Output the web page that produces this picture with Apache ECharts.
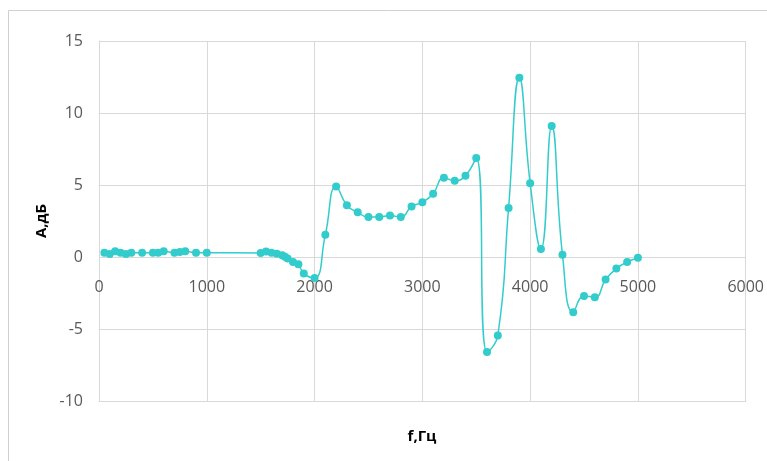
<!DOCTYPE html>
<html>
<head>
<meta charset="utf-8">
<script src="https://cdn.jsdelivr.net/npm/echarts@6/dist/echarts.min.js"></script>
<style>
html,body{margin:0;padding:0;background:#fff;}
#c{width:767px;height:461px;}
</style>
</head>
<body>
<div id="c"></div>
<script>
// Data
const freqHz = [50,100,150,200,250,300,400,500,550,600,700,750,800,900,1000,
  1500,1550,1600,1650,1700,1725,1750,1800,1850,1900,2000,2100,2200,2300,2400,
  2500,2600,2700,2800,2900,3000,3100,3200,3300,3400,3500,3600,3700,3800,3900,
  4000,4100,4200,4300,4400,4500,4600,4700,4800,4900,5000];
const amplitudeDb = [0.3,0.2,0.4,0.3,0.2,0.3,0.3,0.3,0.3,0.4,0.3,0.35,0.4,0.3,0.3,
  0.28,0.38,0.3,0.22,0.12,0.02,-0.1,-0.35,-0.5,-1.15,-1.45,1.55,4.9,3.6,3.1,
  2.77,2.77,2.88,2.77,3.5,3.8,4.4,5.5,5.3,5.65,6.87,-6.6,-5.45,3.4,12.45,
  5.13,0.55,9.1,0.16,-3.84,-2.7,-2.8,-1.57,-0.8,-0.35,-0.05];
const xTickLabels = [0,1000,2000,3000,4000,5000,6000];
const yTickLabels = [-10,-5,0,5,10,15];
const xAxisTitle = 'f,Гц';
const yAxisTitle = 'А,дБ';

const points = freqHz.map((f,i)=>[f, amplitudeDb[i]]);
const font = "'Open Sans', 'Liberation Sans', sans-serif";
const gridColor = '#d9d9d9';
const lineColor = '#33cccc';

const chart = echarts.init(document.getElementById('c'), null, {renderer:'canvas'});
chart.setOption({
  animation:false,
  backgroundColor:'#fff',
  grid:{left:99, right:21, top:41, bottom:60, containLabel:false},
  xAxis:{
    type:'value',
    min:xTickLabels[0], max:xTickLabels[xTickLabels.length-1], interval:1000,
    axisLine:{show:true, onZero:false, lineStyle:{color:gridColor, width:1}},
    axisTick:{show:false},
    splitLine:{show:true, lineStyle:{color:gridColor, width:1}},
    axisLabel:{color:'#595959', fontSize:16, fontFamily:font, margin:-122,
      formatter:function(v){return String(v);}}
  },
  yAxis:{
    type:'value',
    min:yTickLabels[0], max:yTickLabels[yTickLabels.length-1], interval:5,
    axisLine:{show:true, lineStyle:{color:gridColor, width:1}},
    axisTick:{show:false},
    splitLine:{show:true, lineStyle:{color:gridColor, width:1}},
    axisLabel:{color:'#595959', fontSize:16, fontFamily:font, margin:16,
      formatter:function(v){return String(v);}}
  },
  graphic:[
    {type:'rect', silent:true, shape:{x:8.5, y:10.5, width:900, height:600},
     style:{fill:null, stroke:'#d0d0d0', lineWidth:1}},
    {type:'text', silent:true, x:422, y:437,
     style:{text:xAxisTitle, x:0, y:0, align:'center', verticalAlign:'middle',
       font:"bold 15px "+font, fill:'#000'}},
    {type:'text', silent:true, rotation:Math.PI/2, x:42, y:221,
     style:{text:yAxisTitle, x:0, y:0, align:'center', verticalAlign:'middle',
       font:"bold 15px "+font, fill:'#000'}}
  ],
  series:[{
    type:'line',
    data:points,
    smooth:0.5,
    symbol:'circle',
    symbolSize:8,
    showSymbol:true,
    itemStyle:{color:lineColor},
    lineStyle:{color:lineColor, width:1.5}
  }]
});
</script>
</body>
</html>
